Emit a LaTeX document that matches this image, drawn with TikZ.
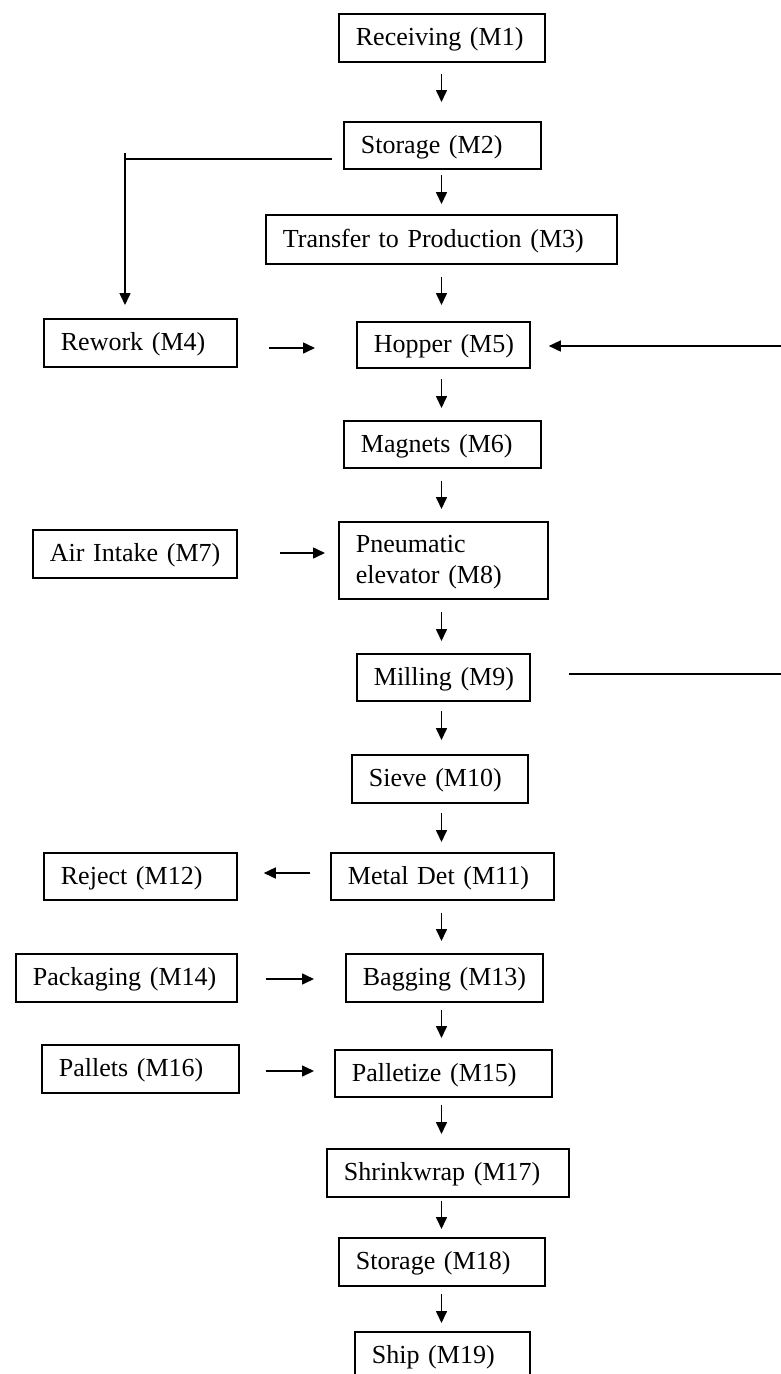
\documentclass[tikz,border=0pt]{standalone}
\usepackage{fontspec}
\setmainfont{Liberation Serif}
\usetikzlibrary{arrows.meta}
\begin{document}
\begin{tikzpicture}[x=1pt,y=-1pt,
  box/.style={draw, line width=1.8pt, rectangle, anchor=north west, inner xsep=17pt, inner ysep=0pt,
    align=left, text depth=2pt, font=\fontsize{26}{31}\selectfont},
  arr/.style={line width=1.6pt, -{Triangle[length=12pt,width=11pt]}},
  plain/.style={line width=1.6pt}]
\fill[white] (0,0) rectangle (781,1374);
\useasboundingbox (0,0) rectangle (781,1374);
\clip (0,0) rectangle (781,1374);
% helper coordinates
\coordinate (cx) at (441.5,0);
\coordinate (lx) at (125,0);
\coordinate (rx) at (800,0);
\coordinate (h2) at (0,159);
\coordinate (h4) at (0,348);
\coordinate (h5) at (0,346);
\coordinate (h7) at (0,553);
\coordinate (h9) at (0,674);
\coordinate (h11) at (0,873);
\coordinate (h14) at (0,979);
\coordinate (h16) at (0,1071);
% boxes
\node[box, minimum height=48pt, text width=172pt] (m1) at (338,13) {\mbox{Receiving (M1)}};
\node[box, minimum height=47pt, text width=163pt] (m2) at (343,121) {\mbox{Storage (M2)}};
\node[box, minimum height=49pt, text width=317pt] (m3) at (265,214) {\mbox{Transfer to Production (M3)}};
\node[box, minimum height=48pt, text width=159pt] (m4) at (43,318) {\mbox{Rework (M4)}};
\node[box, minimum height=46pt, text width=139pt] (m5) at (356,321) {\mbox{Hopper (M5)}};
\node[box, minimum height=47pt, text width=163pt] (m6) at (343,420) {\mbox{Magnets (M6)}};
\node[box, minimum height=48pt, text width=170pt] (m7) at (32,529) {\mbox{Air Intake (M7)}};
\node[box, minimum height=77pt, text width=175pt, text depth=33pt] (m8) at (338,521) {\mbox{Pneumatic}\\\mbox{elevator (M8)}};
\node[box, minimum height=47pt, text width=139pt] (m9) at (356,653) {\mbox{Milling (M9)}};
\node[box, minimum height=48pt, text width=142pt] (m10) at (351,754) {\mbox{Sieve (M10)}};
\node[box, minimum height=47pt, text width=189pt] (m11) at (330,852) {\mbox{Metal Det (M11)}};
\node[box, minimum height=47pt, text width=159pt] (m12) at (43,852) {\mbox{Reject (M12)}};
\node[box, minimum height=48pt, text width=163pt] (m13) at (345,953) {\mbox{Bagging (M13)}};
\node[box, minimum height=48pt, text width=187pt] (m14) at (15,953) {\mbox{Packaging (M14)}};
\node[box, minimum height=47pt, text width=183pt] (m15) at (334,1049) {\mbox{Palletize (M15)}};
\node[box, minimum height=48pt, text width=163pt] (m16) at (41,1044) {\mbox{Pallets (M16)}};
\node[box, minimum height=48pt, text width=208pt] (m17) at (326,1148) {\mbox{Shrinkwrap (M17)}};
\node[box, minimum height=48pt, text width=172pt] (m18) at (338,1237) {\mbox{Storage (M18)}};
\node[box, minimum height=48pt, text width=141pt] (m19) at (354,1331) {\mbox{Ship (M19)}};
% main vertical flow
\draw[arr, shorten <=11pt, shorten >=19pt] (m1.south -| cx) -- (m2.north -| cx);
\draw[arr, shorten <=5pt,  shorten >=10pt] (m2.south -| cx) -- (m3.north -| cx);
\draw[arr, shorten <=12pt, shorten >=16pt] (m3.south -| cx) -- (m5.north -| cx);
\draw[arr, shorten <=10pt, shorten >=12pt] (m5.south -| cx) -- (m6.north -| cx);
\draw[arr, shorten <=12pt, shorten >=12pt] (m6.south -| cx) -- (m8.north -| cx);
\draw[arr, shorten <=12pt, shorten >=12pt] (m8.south -| cx) -- (m9.north -| cx);
\draw[arr, shorten <=9pt,  shorten >=14pt] (m9.south -| cx) -- (m10.north -| cx);
\draw[arr, shorten <=9pt,  shorten >=10pt] (m10.south -| cx) -- (m11.north -| cx);
\draw[arr, shorten <=12pt, shorten >=12pt] (m11.south -| cx) -- (m13.north -| cx);
\draw[arr, shorten <=7pt,  shorten >=11pt] (m13.south -| cx) -- (m15.north -| cx);
\draw[arr, shorten <=7pt,  shorten >=14pt] (m15.south -| cx) -- (m17.north -| cx);
\draw[arr, shorten <=3pt,  shorten >=8pt]  (m17.south -| cx) -- (m18.north -| cx);
\draw[arr, shorten <=7pt,  shorten >=8pt]  (m18.south -| cx) -- (m19.north -| cx);
% side inputs / outputs
\draw[arr, shorten <=31pt, shorten >=41pt] (m4.east |- h4) -- (m5.west |- h4);
\draw[arr, shorten <=42pt, shorten >=13pt] (m7.east |- h7) -- (m8.west |- h7);
\draw[arr, shorten <=20pt, shorten >=26pt] (m11.west |- h11) -- (m12.east |- h11);
\draw[arr, shorten <=28pt, shorten >=31pt] (m14.east |- h14) -- (m13.west |- h14);
\draw[arr, shorten <=26pt, shorten >=20pt] (m16.east |- h16) -- (m15.west |- h16);
% storage to rework
\draw[arr, shorten <=11pt, shorten >=13pt] (m2.west |- h2) -| (m4.north -| lx);
\coordinate (bend) at (lx |- h2);
\draw[plain] (bend) -- ++(0,-6);
% milling back to hopper (loop runs off the page edge)
\draw[arr, shorten <=38pt, shorten >=18pt] (m9.east |- h9) -- (rx |- h9) -- (rx |- h5) -- (m5.east |- h5);
\end{tikzpicture}
\end{document}
